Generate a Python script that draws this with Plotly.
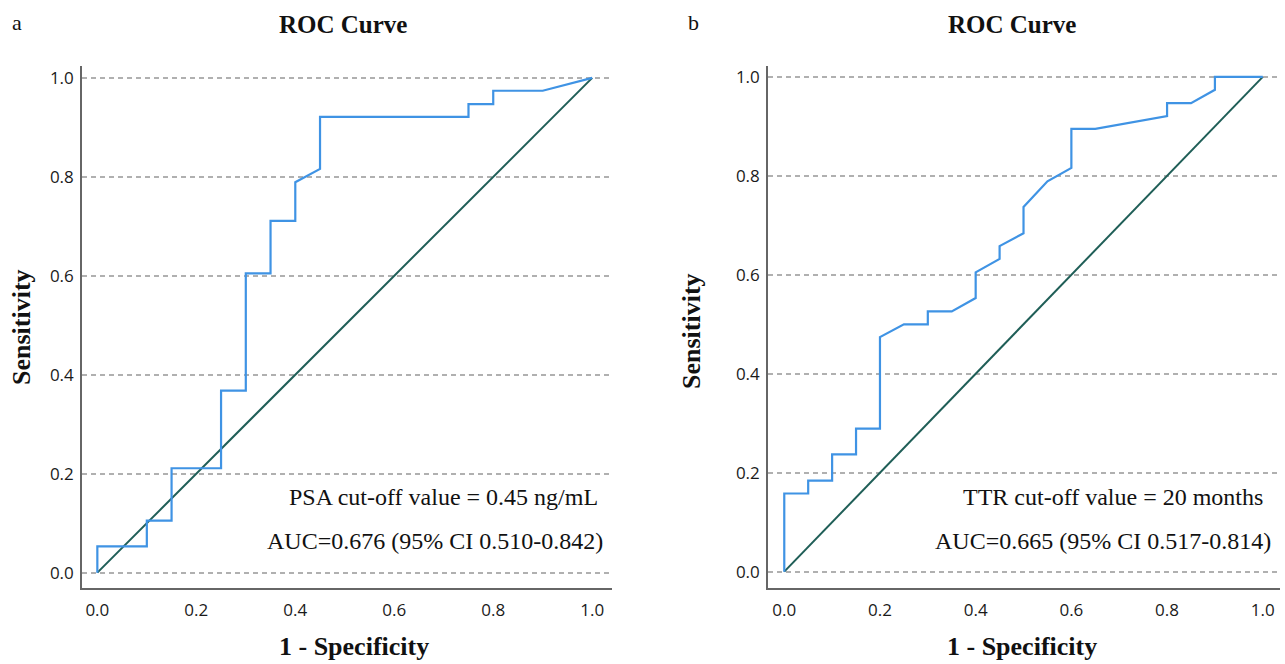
import plotly.graph_objects as go

# ---- data ----
fpr_a = [0, 0, 0.10, 0.10, 0.15, 0.15, 0.25, 0.25, 0.30, 0.30, 0.35, 0.35, 0.40, 0.40,
         0.45, 0.45, 0.75, 0.75, 0.80, 0.80, 0.90, 1.0]
tpr_a = [0, 0.053, 0.053, 0.105, 0.105, 0.211, 0.211, 0.368, 0.368, 0.605, 0.605, 0.711,
         0.711, 0.789, 0.816, 0.921, 0.921, 0.947, 0.947, 0.974, 0.974, 1.0]

fpr_b = [0, 0, 0.05, 0.05, 0.10, 0.10, 0.15, 0.15, 0.20, 0.20, 0.25, 0.30, 0.30, 0.35,
         0.40, 0.40, 0.45, 0.45, 0.50, 0.50, 0.55, 0.60, 0.60, 0.65, 0.80, 0.80, 0.85,
         0.90, 0.90, 1.0]
tpr_b = [0, 0.158, 0.158, 0.184, 0.184, 0.237, 0.237, 0.289, 0.289, 0.474, 0.5, 0.5,
         0.526, 0.526, 0.553, 0.605, 0.632, 0.658, 0.684, 0.737, 0.789, 0.816, 0.895,
         0.895, 0.921, 0.947, 0.947, 0.974, 1.0, 1.0]

ref_line = [0, 1]
tick_vals = [0.0, 0.2, 0.4, 0.6, 0.8, 1.0]
tick_text = ["0.0", "0.2", "0.4", "0.6", "0.8", "1.0"]

panel_letters = ["a", "b"]
titles = ["ROC Curve", "ROC Curve"]
x_title = "1 - Specificity"
y_title = "Sensitivity"
notes_a = ["PSA cut-off value = 0.45 ng/mL", "AUC=0.676 (95% CI 0.510-0.842)"]
notes_b = ["TTR cut-off value = 20 months", "AUC=0.665 (95% CI 0.517-0.814)"]

CURVE = "#3f93e4"
DIAG = "#1f5e57"
SERIF = "Liberation Serif, Times New Roman, serif"
SANS = "Open Sans, Lato, sans-serif"

W, H = 1285, 664

fig = go.Figure()
for (fx, fy, xa, ya) in [(fpr_a, tpr_a, "x", "y"), (fpr_b, tpr_b, "x2", "y2")]:
    fig.add_trace(go.Scatter(x=ref_line, y=ref_line, mode="lines", xaxis=xa, yaxis=ya,
                             line=dict(color=DIAG, width=2), showlegend=False, hoverinfo="skip"))
    fig.add_trace(go.Scatter(x=fx, y=fy, mode="lines", xaxis=xa, yaxis=ya,
                             line=dict(color=CURVE, width=2.2), showlegend=False))

ydom = [1 - 588 / H, 1 - 66 / H]
axis_common = dict(showline=True, linecolor="#666666", linewidth=1.6, zeroline=False,
                   tickvals=tick_vals, ticktext=tick_text, ticks="outside",
                   tickcolor="rgba(0,0,0,0)",
                   tickfont=dict(family=SANS, size=17, color="#1a1a1a"))
grid = dict(showgrid=True, gridcolor="#b0b0b0", griddash="5px,4px", gridwidth=1.5)

fig.update_layout(
    width=W, height=H, margin=dict(l=0, r=0, t=0, b=0),
    paper_bgcolor="white", plot_bgcolor="white",
    xaxis=dict(domain=[82 / W, 612 / W], range=[-0.031, 1.04], anchor="y",
               showgrid=False, ticklen=6, **axis_common),
    yaxis=dict(domain=ydom, range=[-0.031, 1.024], anchor="x", ticklen=3,
               **grid, **axis_common),
    xaxis2=dict(domain=[768 / W, 1280 / W], range=[-0.034, 1.036], anchor="y2",
                showgrid=False, ticklen=6, **axis_common),
    yaxis2=dict(domain=ydom, range=[-0.033, 1.022], anchor="x2", ticklen=3,
                **grid, **axis_common),
)

ann = []
def px(x, y, text, size, bold=False, xanchor="center", angle=0, family=SERIF):
    t = f"<b>{text}</b>" if bold else text
    ann.append(dict(x=x / W, y=1 - y / H, xref="paper", yref="paper", text=t,
                    showarrow=False, xanchor=xanchor, yanchor="middle", textangle=angle,
                    font=dict(family=family, size=size, color="#111111")))

px(17, 23, panel_letters[0], 22)
px(693, 23, panel_letters[1], 22)
px(343, 24, titles[0], 25, bold=True)
px(1012, 24, titles[1], 25, bold=True)
px(354, 646, x_title, 26, bold=True)
px(1022, 646, x_title, 26, bold=True)
px(21, 327, y_title, 26, bold=True, angle=-90)
px(691, 331, y_title, 26, bold=True, angle=-90)
px(600, 497, notes_a[0], 24, xanchor="right")
px(605, 541, notes_a[1], 24, xanchor="right")
px(1265, 497, notes_b[0], 24, xanchor="right")
px(1273, 541, notes_b[1], 24, xanchor="right")
fig.update_layout(annotations=ann)

fig.write_html("out.html", config={"displayModeBar": False},
               post_script="document.body.style.margin='0px';document.body.style.overflow='hidden';")
